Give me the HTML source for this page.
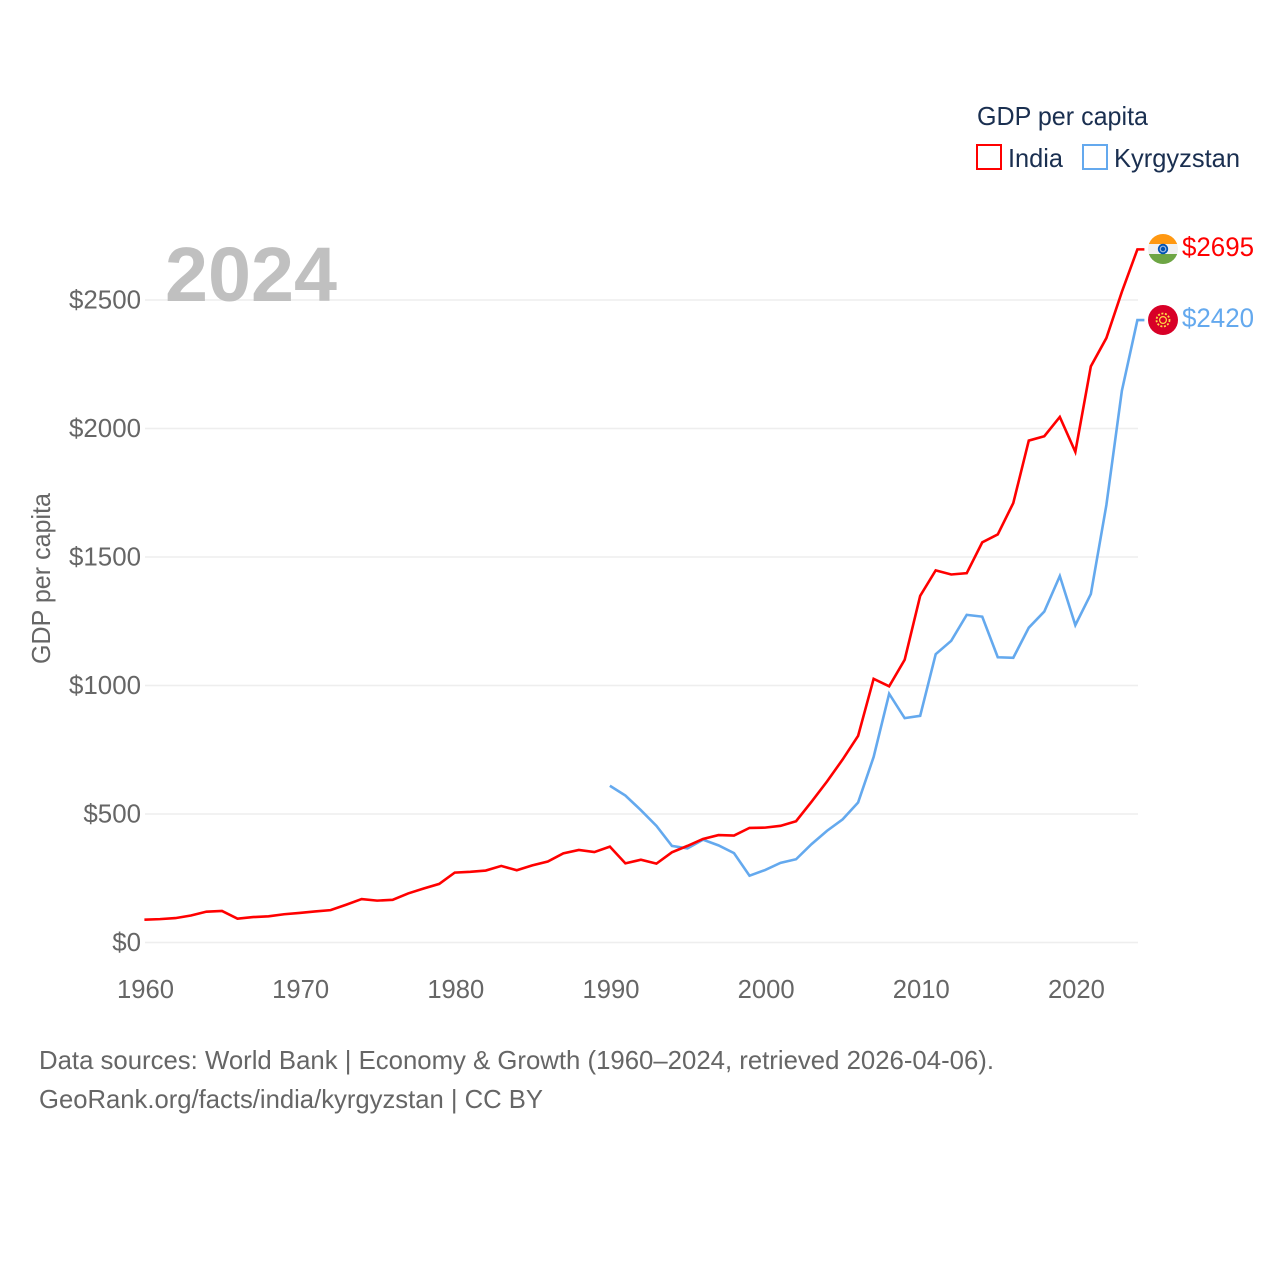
<!DOCTYPE html>
<html lang="en">
<head>
<meta charset="utf-8">
<title>GDP per capita: India and Kyrgyzstan</title>
<style>
html,body{margin:0;padding:0;background:#fff;}
svg{display:block;font-family:"Liberation Sans",sans-serif;}
</style>
</head>
<body>
<svg id="chart" xmlns="http://www.w3.org/2000/svg" width="1280" height="1280" viewBox="0 0 1280 1280">
  <rect width="1280" height="1280" fill="#fff"/>
  <g id="grid"></g>
  <g id="yticks"></g>
  <g id="xticks"></g>
  <text x="165" y="301" font-size="77" font-weight="700" fill="#c0c0c0" textLength="172" lengthAdjust="spacingAndGlyphs">2024</text>
  <text transform="translate(50,664) rotate(-90)" font-size="26" fill="#666" textLength="171" lengthAdjust="spacingAndGlyphs">GDP per capita</text>
  <g id="series" transform="translate(-0.6,-0.5)"></g>

  <g>
    <text x="977" y="125" font-size="26" fill="#1a2f50" textLength="171" lengthAdjust="spacingAndGlyphs">GDP per capita</text>
    <rect x="977" y="145" width="24" height="24" fill="#fff" stroke="#ff0000" stroke-width="2"/>
    <text x="1008" y="167" font-size="26" fill="#1a2f50" textLength="55" lengthAdjust="spacingAndGlyphs">India</text>
    <rect x="1083" y="145" width="24" height="24" fill="#fff" stroke="#64a9ee" stroke-width="2"/>
    <text x="1114" y="167" font-size="26" fill="#1a2f50" textLength="126" lengthAdjust="spacingAndGlyphs">Kyrgyzstan</text>
  </g>

  <defs>
    <clipPath id="flag-clip-in"><circle cx="1163" cy="249" r="15"/></clipPath>
  </defs>
  <g>
    <g clip-path="url(#flag-clip-in)">
      <rect x="1148" y="234" width="30" height="10" fill="#ff9811"/>
      <rect x="1148" y="244" width="30" height="10" fill="#f0f0f0"/>
      <rect x="1148" y="254" width="30" height="10" fill="#6da544"/>
    </g>
    <circle cx="1163" cy="249" r="5.2" fill="#0052b4"/>
    <circle cx="1163" cy="249" r="2.8" fill="none" stroke="#9db8e0" stroke-width="1.2"/>
  </g>
  <g>
    <circle cx="1163" cy="320" r="15" fill="#d80027"/>
    <circle cx="1163" cy="320" r="6.5" fill="none" stroke="#ffda44" stroke-width="1.8" stroke-dasharray="2 1.6"/>
    <circle cx="1163" cy="320" r="3.4" fill="none" stroke="#ffda44" stroke-width="1.2"/>
  </g>
  <text x="1182" y="256" font-size="27" fill="#ff0000" textLength="72" lengthAdjust="spacingAndGlyphs">$2695</text>
  <text x="1182" y="327" font-size="27" fill="#64a9ee" textLength="72" lengthAdjust="spacingAndGlyphs">$2420</text>

  <text x="39" y="1069" font-size="26" fill="#666" textLength="955" lengthAdjust="spacingAndGlyphs">Data sources: World Bank | Economy &amp; Growth (1960–2024, retrieved 2026-04-06).</text>
  <text x="39" y="1108" font-size="26" fill="#666" textLength="504" lengthAdjust="spacingAndGlyphs">GeoRank.org/facts/india/kyrgyzstan | CC BY</text>
</svg>
<script>
const indiaStartYear = 1960;
const kyrgyzstanStartYear = 1990;
const indiaValues = [87,89,93,103,118,121,91,97,100,108,113,119,124,145,167,161,164,189,208,226,270,273,278,296,279,298,313,345,358,350,371,306,320,305,349,374,401,416,414,444,445,452,470,546,625,710,802,1024,995,1098,1347,1446,1430,1435,1555,1586,1708,1951,1968,2043,1907,2240,2350,2530,2695];
const kyrgyzstanValues = [608,570,513,452,374,364,398,376,346,258,280,308,322,381,433,477,543,720,966,871,880,1120,1172,1273,1266,1108,1106,1223,1286,1424,1233,1354,1700,2145,2420];
const yTickValues = [0,500,1000,1500,2000,2500];
const yTickLabels = ["$0","$500","$1000","$1500","$2000","$2500"];
const xTickYears = [1960,1970,1980,1990,2000,2010,2020];
const xTickLabels = ["1960","1970","1980","1990","2000","2010","2020"];

const SVGNS = "http://www.w3.org/2000/svg";
function xScale(year){ return 145 + (year - 1960) * (1138 - 145) / 64; }
function yScale(value){ return 942.5 - value * (942.5 - 300) / 2500; }
function digitWidth(label){
  let w = 0;
  for (const c of label) w += 14.4;
  return w;
}

const grid = document.getElementById("grid");
const yticks = document.getElementById("yticks");
yTickValues.forEach(function(v, i){
  const line = document.createElementNS(SVGNS, "line");
  
  
  line.setAttribute("x1", 145);
  line.setAttribute("x2", 1138);
  line.setAttribute("y1", yScale(v));
  line.setAttribute("y2", yScale(v));
  line.setAttribute("stroke", "#eeeeee");
  line.setAttribute("stroke-width", "1.5");
  grid.appendChild(line);

  const t = document.createElementNS(SVGNS, "text");
  
  
  t.setAttribute("x", 141 - digitWidth(yTickLabels[i]));
  t.setAttribute("y", yScale(v) + 8.5);
  t.setAttribute("font-size", "26");
  t.setAttribute("fill", "#666");
  t.setAttribute("textLength", digitWidth(yTickLabels[i]));
  t.setAttribute("lengthAdjust", "spacingAndGlyphs");
  t.textContent = yTickLabels[i];
  yticks.appendChild(t);
});

const xticks = document.getElementById("xticks");
xTickYears.forEach(function(year, i){
  const t = document.createElementNS(SVGNS, "text");
  
  
  t.setAttribute("x", xScale(year) - 28);
  t.setAttribute("y", 998);
  t.setAttribute("font-size", "26");
  t.setAttribute("fill", "#666");
  t.setAttribute("textLength", "57");
  t.setAttribute("lengthAdjust", "spacingAndGlyphs");
  t.textContent = xTickLabels[i];
  xticks.appendChild(t);
});

function seriesPoints(values, startYear){
  const pts = values.map(function(v, i){
    return xScale(startYear + i).toFixed(2) + "," + yScale(v).toFixed(2);
  });
  const last = values[values.length - 1];
  pts.push((xScale(startYear + values.length - 1) + 7).toFixed(2) + "," + yScale(last).toFixed(2));
  return pts.join(" ");
}

const series = document.getElementById("series");

const kyrgyzstanLine = document.createElementNS(SVGNS, "polyline");


kyrgyzstanLine.setAttribute("points", seriesPoints(kyrgyzstanValues, kyrgyzstanStartYear));
kyrgyzstanLine.setAttribute("fill", "none");
kyrgyzstanLine.setAttribute("stroke", "#64a9ee");
kyrgyzstanLine.setAttribute("stroke-width", "2.6");
series.appendChild(kyrgyzstanLine);

const indiaLine = document.createElementNS(SVGNS, "polyline");


indiaLine.setAttribute("points", seriesPoints(indiaValues, indiaStartYear));
indiaLine.setAttribute("fill", "none");
indiaLine.setAttribute("stroke", "#ff0000");
indiaLine.setAttribute("stroke-width", "2.6");
series.appendChild(indiaLine);
</script>
</body>
</html>
